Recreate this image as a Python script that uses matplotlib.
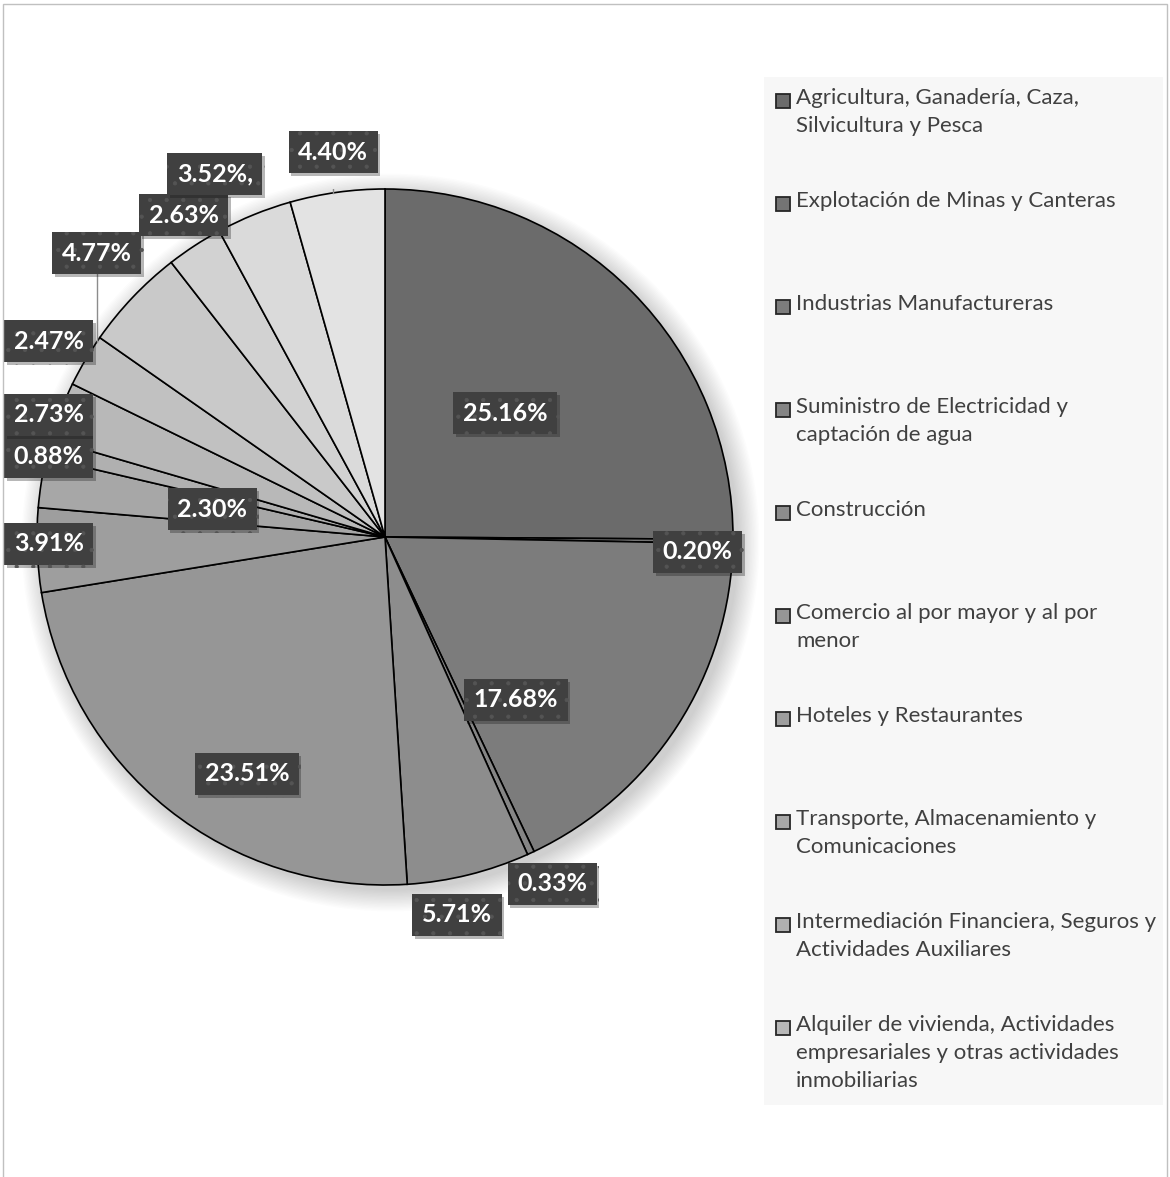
import numpy as np
import matplotlib.pyplot as plt
import matplotlib.patheffects as pe
from matplotlib.patches import Rectangle, Circle

# shares by economic activity (%), clockwise from 12 o'clock
values = [25.16, 0.20, 17.68, 0.33, 5.71, 23.51, 3.91, 2.30, 0.88, 2.73,
          2.47, 4.77, 2.63, 3.52, 4.40]
pct_labels = ["25.16%", "0.20%", "17.68%", "0.33%", "5.71%", "23.51%", "3.91%",
              "2.30%", "0.88%", "2.73%", "2.47%", "4.77%", "2.63%", "3.52%,", "4.40%"]
legend_labels = [
    "Agricultura, Ganadería, Caza,\nSilvicultura y Pesca",
    "Explotación de Minas y Canteras",
    "Industrias Manufactureras",
    "Suministro de Electricidad y\ncaptación de agua",
    "Construcción",
    "Comercio al por mayor y al por\nmenor",
    "Hoteles y Restaurantes",
    "Transporte, Almacenamiento y\nComunicaciones",
    "Intermediación Financiera, Seguros y\nActividades Auxiliares",
    "Alquiler de vivienda, Actividades\nempresariales y otras actividades\ninmobiliarias",
]

# label placement (pie radius units) - layout only
label_xy = [(0.345, 0.356), (0.899, -0.043), (0.376, -0.468), (0.480, -0.997),
            (0.207, -1.086), (-0.397, -0.681), (-0.966, -0.020), (-0.497, 0.080),
            (-0.966, 0.230), (-0.966, 0.351), (-0.966, 0.563), (-0.828, 0.816),
            (-0.578, 0.925), (-0.489, 1.043), (-0.149, 1.106)]
leader_idx = [11, 13, 14]

W, H = 1170, 1177
fig = plt.figure(figsize=(W / 100, H / 100), dpi=100)
fig.patch.set_facecolor("white")
plt.rcParams["hatch.linewidth"] = 0.6

# outer chart border
fig.add_artist(Rectangle((3 / W, -0.01), 1164 / W, 1 - 4 / H + 0.01,
                         transform=fig.transFigure, fill=False,
                         edgecolor="#c0c0c0", linewidth=1))

cx, cy, R = 385, 537, 348
ax = fig.add_axes([(cx - R) / W, (H - cy - R) / H, 2 * R / W, 2 * R / H])

colors = [str(g) for g in np.linspace(0.42, 0.89, len(values))]

# soft shadow, fading outwards
for k in range(16):
    ax.add_patch(Circle((0.016, -0.016), 1.0 + 0.004 * k, color="black",
                        alpha=0.012, zorder=0, linewidth=0, clip_on=False))

wedges, _ = ax.pie(values, colors=colors, startangle=90, counterclock=False,
                   radius=1, center=(0, 0), frame=True,
                   wedgeprops=dict(edgecolor="black", linewidth=1.2))
ax.set_xlim(-1, 1)
ax.set_ylim(-1, 1)
ax.axis("off")

for i, (txt, (x, y)) in enumerate(zip(pct_labels, label_xy)):
    t = ax.text(x, y, txt, ha="center", va="center", color="white",
                fontsize=18, fontweight="bold", family="Lato", zorder=5,
                bbox=dict(boxstyle="square,pad=0.38", facecolor="#404040",
                          edgecolor="#545454", linewidth=0, hatch="."))
    t.get_bbox_patch().set_path_effects(
        [pe.SimplePatchShadow(offset=(2, -2), alpha=0.3), pe.Normal()])
    if i in leader_idx:
        y0 = y - 20 / R
        y1 = np.sqrt(1 - x ** 2)
        ax.plot([x, x], [y0, y1], color="#8c8c8c", linewidth=1, zorder=4)

# legend panel
fig.add_artist(Rectangle((764 / W, 1 - 1105 / H), 399 / W, (1105 - 77) / H,
                         transform=fig.transFigure, facecolor="#f7f7f7",
                         edgecolor="none"))
for i, lab in enumerate(legend_labels):
    ytop = 101 + i * 103
    fig.add_artist(Rectangle((776 / W, 1 - (ytop + 7) / H), 14 / W, 14 / H,
                             transform=fig.transFigure,
                             facecolor=wedges[i].get_facecolor(),
                             edgecolor="#262626", linewidth=1.3))
    fig.text(796 / W, 1 - (ytop - 13) / H, lab, ha="left", va="top",
             fontsize=16, family="Lato", color="#404040", linespacing=1.5)

fig.savefig("out.png", dpi=100)
